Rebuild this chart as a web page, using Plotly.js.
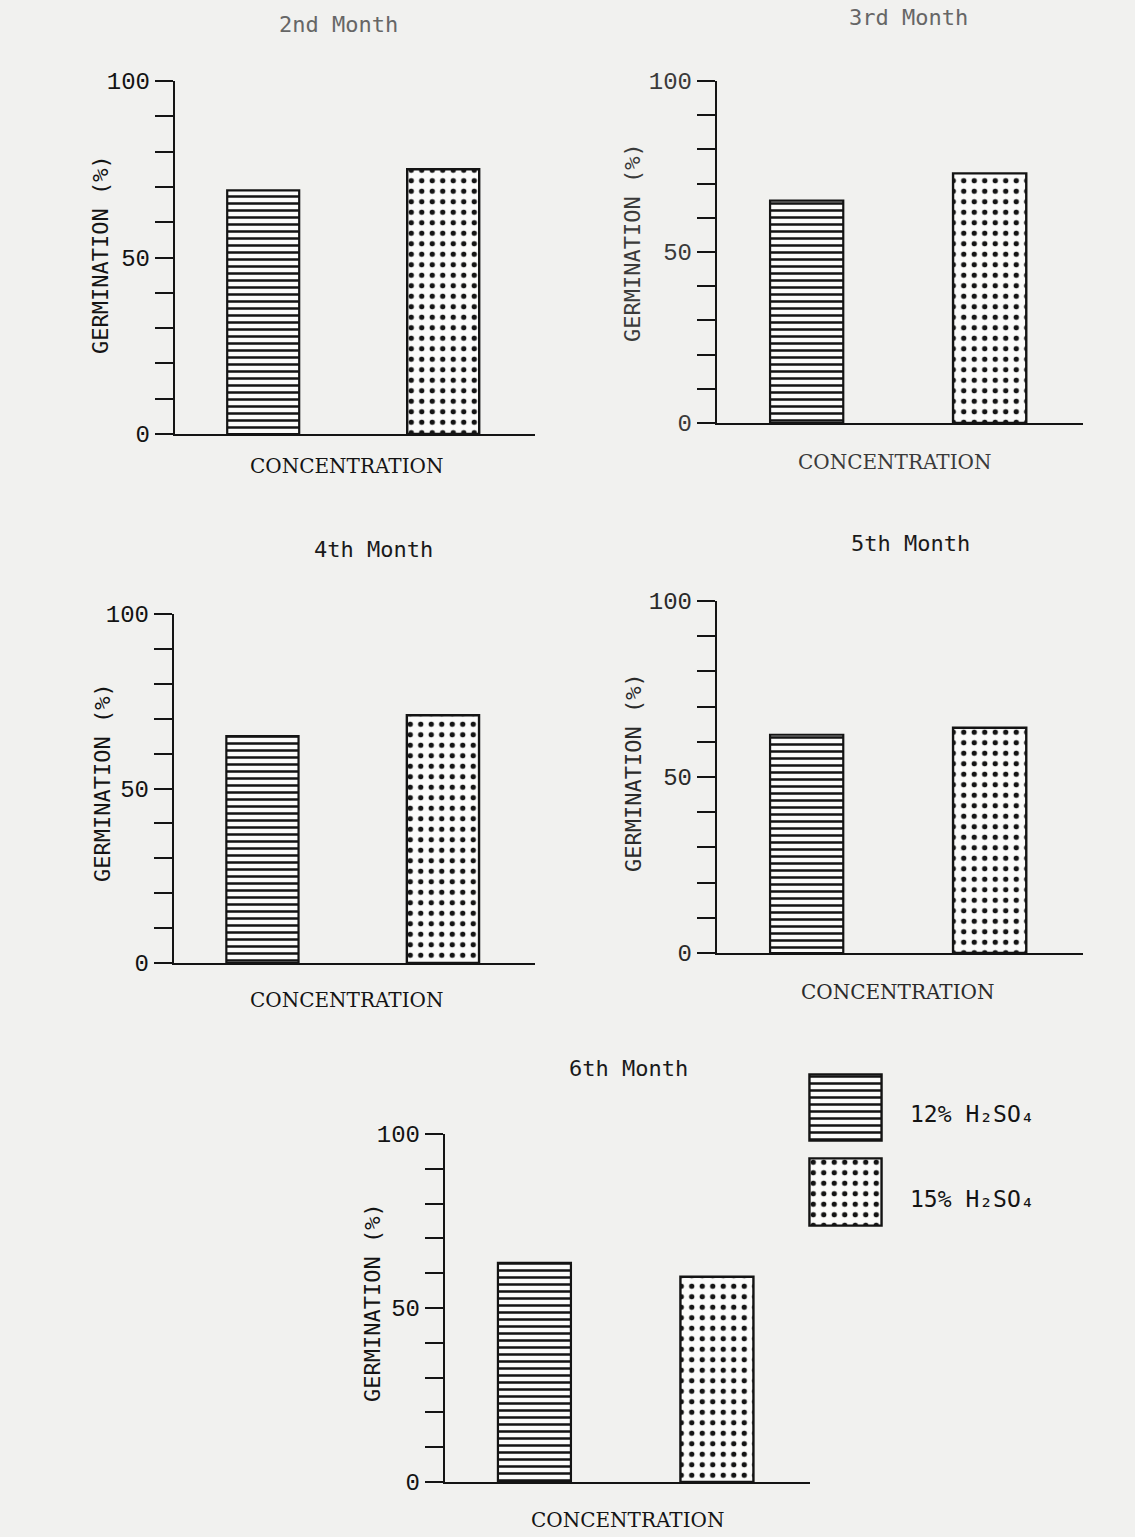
<!DOCTYPE html>
<html><head><meta charset="utf-8">
<script src="https://cdn.plot.ly/plotly-3.0.1.min.js"></script>
<style>html,body{margin:0;padding:0;background:#f1f1ef}</style>
</head><body>
<div id="chart" style="width:1135px;height:1537px"></div>
<script>
// ---- data ----
const months = ["2nd Month", "3rd Month", "4th Month", "5th Month", "6th Month"];
const categories = ["12% H₂SO₄", "15% H₂SO₄"];
const seriesLabels = ["12% H₂SO₄", "15% H₂SO₄"];
const germ12 = [69, 65, 65, 62, 63];
const germ15 = [75, 73, 71, 64, 59];
const yTickVals = [0, 50, 100];
const yTickText = ["0", "50", "100"];
const yMinorStep = 10;
const xTitle = "CONCENTRATION";
const yTitle = "GERMINATION (%)";

// ---- layout geometry (pixels) ----
const W = 1135, H = 1537;
const fx = p => p / W;
const fy = p => 1 - p / H;
const panels = [
  {x0:175, x1:535, y0:81,   y1:434,  t:[338,25],   xt:[347,466],  yt:[100,255],  tc:'#666', lc:'#141414'},
  {x0:717, x1:1083, y0:81,  y1:423,  t:[908,18],   xt:[895,462],  yt:[632,243],  tc:'#666', lc:'#3a3a3a'},
  {x0:174, x1:535, y0:614,  y1:963,  t:[373,550],  xt:[347,1000], yt:[102,783],  tc:'#1a1a1a', lc:'#141414'},
  {x0:717, x1:1083, y0:601, y1:953,  t:[910,543],  xt:[898,992],  yt:[633,773],  tc:'#1a1a1a', lc:'#2a2a2a'},
  {x0:445, x1:810, y0:1134, y1:1482, t:[628,1068], xt:[628,1520], yt:[372,1303], tc:'#1a1a1a', lc:'#141414'}
];
const ink = '#141414';
const paper = '#f1f1ef';
const barBg = '#fbfbfa';
const patLines = {shape:'-', size:7, solidity:0.36, fgcolor:ink, bgcolor:barBg, fillmode:'replace'};
const patDots = {shape:'.', size:10.5, solidity:0.2, fgcolor:ink, bgcolor:barBg, fillmode:'replace'};

const traces = [];
const layout = {
  width: W, height: H,
  margin: {l:0, r:0, t:0, b:0},
  paper_bgcolor: paper, plot_bgcolor: 'rgba(0,0,0,0)',
  showlegend: false,
  annotations: []
};

panels.forEach((p, i) => {
  const n = i === 0 ? '' : String(i + 1);
  traces.push({
    type:'bar', x:[categories[0]], y:[germ12[i]], xaxis:'x'+n, yaxis:'y'+n, width:0.4,
    name: seriesLabels[0],
    marker:{color:barBg, line:{color:ink, width:2.2}, pattern:patLines}, hoverinfo:'y'
  });
  traces.push({
    type:'bar', x:[categories[1]], y:[germ15[i]], xaxis:'x'+n, yaxis:'y'+n, width:0.4,
    name: seriesLabels[1],
    marker:{color:barBg, line:{color:ink, width:2.4}, pattern:patDots}, hoverinfo:'y'
  });
  layout['xaxis'+n] = {
    domain:[fx(p.x0), fx(p.x1)], anchor:'y'+n, type:'category',
    categoryarray: categories, range:[-0.49, 1.51],
    showticklabels:false, ticks:'', showgrid:false, zeroline:false,
    showline:true, linecolor:ink, linewidth:2.2, fixedrange:true
  };
  layout['yaxis'+n] = {
    domain:[fy(p.y1), fy(p.y0)], anchor:'x'+n, range:[0, 100],
    tickmode:'array', tickvals:yTickVals, ticktext:yTickText,
    ticks:'outside', ticklen:18, tickwidth:2, tickcolor:ink,
    minor:{dtick:yMinorStep, tick0:0, ticks:'outside', ticklen:18, tickwidth:2, tickcolor:ink, showgrid:false},
    tickfont:{family:'Liberation Mono, monospace', size:24, color:p.lc},
    showline:true, linecolor:ink, linewidth:2.2, showgrid:false, zeroline:false, fixedrange:true
  };
  layout.annotations.push({
    text: months[i], xref:'paper', yref:'paper', x:fx(p.t[0]), y:fy(p.t[1]),
    xanchor:'center', yanchor:'middle', showarrow:false,
    font:{family:'DejaVu Sans Mono, monospace', size:22, color:p.tc}
  });
  layout.annotations.push({
    text: xTitle, xref:'paper', yref:'paper', x:fx(p.xt[0]), y:fy(p.xt[1]),
    xanchor:'center', yanchor:'middle', showarrow:false,
    font:{family:'DejaVu Serif, serif', size:20, color:p.lc}
  });
  layout.annotations.push({
    text: yTitle, xref:'paper', yref:'paper', x:fx(p.yt[0]), y:fy(p.yt[1]),
    xanchor:'center', yanchor:'middle', showarrow:false, textangle:-90,
    font:{family:'DejaVu Sans Mono, monospace', size:22, color:p.lc}
  });
});

// ---- legend swatches (hidden axes) ----
const sw = [
  {x0:808, x1:883, y0:1073, y1:1142, pat:patLines, tx:[908,1114]},
  {x0:808, x1:883, y0:1157, y1:1227, pat:patDots, tx:[908,1199]}
];
sw.forEach((s, k) => {
  const n = String(6 + k);
  traces.push({
    type:'bar', x:['swatch'], y:[1], width:1, xaxis:'x'+n, yaxis:'y'+n,
    name: seriesLabels[k], hoverinfo:'name',
    marker:{color:barBg, line:{color:ink, width:2.4}, pattern:s.pat}
  });
  layout['xaxis'+n] = {domain:[fx(s.x0), fx(s.x1)], anchor:'y'+n, visible:false, range:[-0.52, 0.52], fixedrange:true};
  layout['yaxis'+n] = {domain:[fy(s.y1), fy(s.y0)], anchor:'x'+n, visible:false, range:[-0.02, 1.02], fixedrange:true};
  layout.annotations.push({
    text: seriesLabels[k], xref:'paper', yref:'paper', x:fx(s.tx[0]), y:fy(s.tx[1]),
    xanchor:'left', yanchor:'middle', showarrow:false,
    font:{family:'DejaVu Sans Mono, monospace', size:23, color:ink}
  });
});

Plotly.newPlot('chart', traces, layout, {displayModeBar:false, staticPlot:true});
</script>
</body></html>
